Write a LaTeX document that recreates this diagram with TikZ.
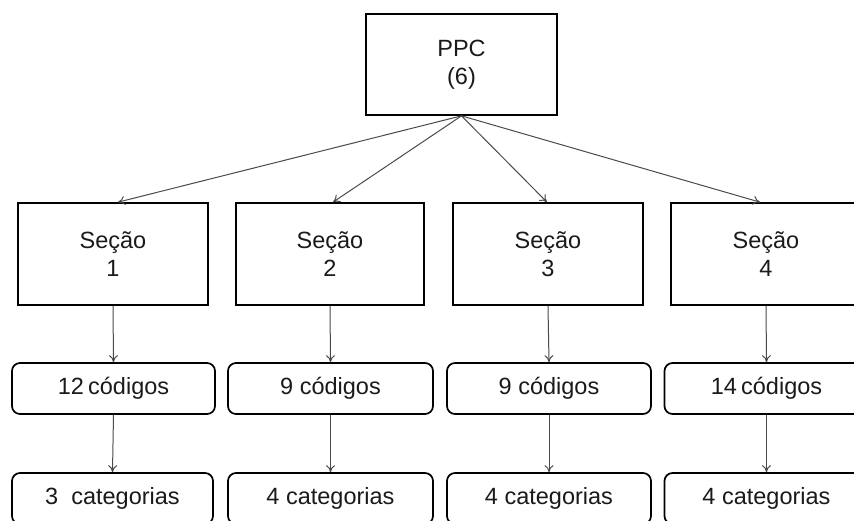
\documentclass[tikz,border=0pt]{standalone}
\usepackage{fontspec}
\setmainfont{Liberation Sans}
\usetikzlibrary{arrows.meta}
\definecolor{txt}{HTML}{1A1A1A}
\definecolor{arr}{HTML}{4A4A4A}
\tikzset{
  box/.style={draw=black, line width=1.7pt, fill=white, align=center, inner sep=0pt,
    text=txt, font=\fontsize{23.5}{28}\selectfont},
  secbox/.style={box, minimum width=190pt, minimum height=102pt},
  codbox/.style={box, rounded corners=8pt, minimum width=204pt, minimum height=51pt},
  link/.style={draw=arr, line width=1pt, -{To[length=7pt,width=9pt]}}
}
\begin{document}
\begin{tikzpicture}[x=1pt,y=-1pt]
\useasboundingbox (0,0) rectangle (854,520);
\node[secbox, minimum width=191pt, minimum height=101pt] (ppc) at (461.5,64.5) {PPC\\(6)};
\node[secbox] (s1) at (113,254) {Seção\\1};
\node[secbox, minimum width=188pt] (s2) at (330,254) {Seção\\2};
\node[secbox] (s3) at (548,254) {Seção\\3};
\node[secbox] (s4) at (766,254) {Seção\\4};
\node[codbox, minimum width=203pt] (c1) at (113.5,388.5) {12\hspace{0.18em}códigos};
\node[codbox, minimum width=205pt] (c2) at (330.5,388.5) {9 códigos};
\node[codbox] (c3) at (549,388.5) {9 códigos};
\node[codbox] (c4) at (766.5,388.5) {14\hspace{0.18em}códigos};
\node[codbox, minimum width=201pt] (k1) at (112.5,498.5) {3\ \ categorias};
\node[codbox, minimum width=205pt] (k2) at (330.5,498.5) {4 categorias};
\node[codbox] (k3) at (549,498.5) {4 categorias};
\node[codbox] (k4) at (766.5,498.5) {4 categorias};
\draw[link] (ppc.south) -- ([xshift=5pt]s1.north);
\draw[link] (ppc.south) -- ([xshift=3pt]s2.north);
\draw[link] (ppc.south) -- ([xshift=-1pt]s3.north);
\draw[link] (ppc.south) -- ([xshift=-6pt]s4.north);
\foreach \i in {1,2,3,4} {
  \draw[link] (s\i.south) -- (c\i.north);
  \draw[link] (c\i.south) -- (k\i.north);
}
\end{tikzpicture}
\end{document}
